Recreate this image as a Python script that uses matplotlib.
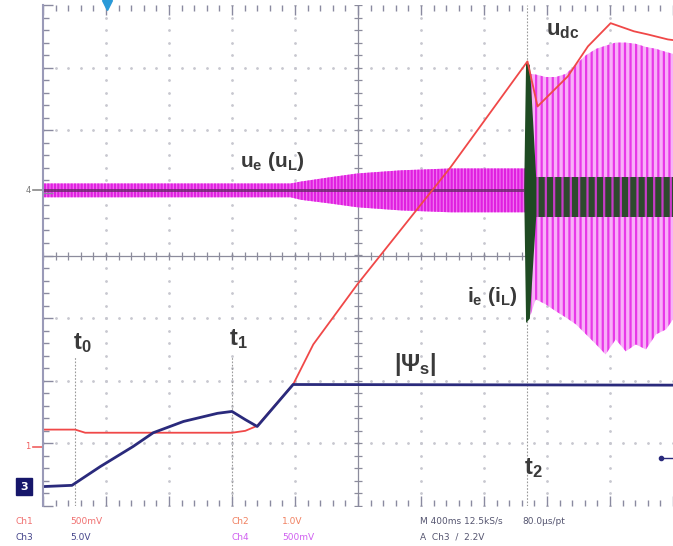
import numpy as np
import matplotlib.pyplot as plt

# scope screen in divisions: x 0..10 (400 ms/div), y -4..4
# Ch1 (red) u_dc
red_x = [0, 0.51, 0.67, 3.0, 3.21, 3.40, 3.97, 4.29, 4.99, 6.47, 7.69, 7.85,
         8.33, 8.65, 9.01, 9.38, 9.60, 9.92, 10]
red_y = [-2.78, -2.78, -2.83, -2.83, -2.80, -2.72, -2.06, -1.42, -0.46, 1.41, 3.10, 2.38,
         2.86, 3.34, 3.71, 3.58, 3.53, 3.45, 3.44]

# Ch3 (blue) |Psi_s|
blue_x = [0, 0.46, 0.91, 1.43, 1.75, 2.23, 2.77, 3.0, 3.21, 3.40, 3.97, 10]
blue_y = [-3.69, -3.67, -3.37, -3.05, -2.83, -2.65, -2.52, -2.49, -2.62, -2.73, -2.06, -2.07]

# Ch4 (magenta) u_e envelope, before and after t2
mag_x_pre = [0, 3.93, 4.09, 4.56, 4.99, 5.68, 6.47, 7.27, 7.66]
mag_hi_pre = [1.15, 1.15, 1.18, 1.25, 1.31, 1.36, 1.39, 1.39, 1.39]
mag_lo_pre = [0.93, 0.93, 0.89, 0.83, 0.77, 0.72, 0.69, 0.69, 0.69]

mag_x_post = [7.74, 7.82, 7.98, 8.14, 8.30, 8.46, 8.62, 8.78, 8.93, 9.09, 9.25, 9.41,
              9.57, 9.73, 9.89, 10]
mag_hi_post = [2.90, 2.89, 2.85, 2.85, 2.90, 3.05, 3.20, 3.30, 3.35, 3.40, 3.40, 3.38,
               3.33, 3.30, 3.25, 3.22]
mag_lo_post = [-0.95, -0.70, -0.78, -0.89, -0.99, -1.10, -1.26, -1.42, -1.58, -1.34, -1.53, -1.42,
               -1.50, -1.26, -1.18, -1.02]

# Ch2 (dark green) i_e: thin trace before t2, spike at t2, band after
grn_x_pre = [0, 7.64]
grn_hi_pre = [1.06, 1.06]
grn_lo_pre = [1.02, 1.02]
spike_x = [7.63, 7.66, 7.72, 7.78, 7.82]
spike_hi = [1.07, 3.10, 3.05, 2.0, 1.25]
spike_lo = [1.01, -1.07, -1.0, 0.0, 0.62]
grn_x_post = [7.80, 10]
grn_hi_post = [1.25, 1.25]
grn_lo_post = [0.62, 0.62]

t_marks = [0.51, 3.0, 7.69]

plt.rcParams['mathtext.fontset'] = 'custom'
plt.rcParams['mathtext.rm'] = 'Liberation Sans'
plt.rcParams['mathtext.bf'] = 'Liberation Sans:bold'
plt.rcParams['mathtext.it'] = 'Liberation Sans:italic'
plt.rcParams['hatch.linewidth'] = 1.6

fig = plt.figure(figsize=(6.73, 5.46), dpi=100)
ax = fig.add_axes([43/673, 1-506/546, 630/673, 501/546])
ax.set_xlim(0, 10)
ax.set_ylim(-4, 4)

# graticule
gx = np.arange(0, 10.01, 0.2)
gy = np.arange(-4, 4.01, 0.2)
for k in range(1, 10):
    if k != 5:
        ax.plot([k]*len(gy), gy, ls='none', marker='.', ms=2, color='#c8c8d0', zorder=0.5)
for k in range(-3, 4):
    if k != 0:
        ax.plot(gx, [k]*len(gx), ls='none', marker='.', ms=2, color='#c8c8d0', zorder=0.5)
ax.axhline(0, color='#8c8c9c', lw=0.9, zorder=0.6)
ax.axvline(5, color='#8c8c9c', lw=0.9, zorder=0.6)
ax.plot(gx, [0]*len(gx), ls='none', marker='|', ms=6, mew=0.9, color='#8c8c9c', zorder=0.6)
ax.plot([5]*len(gy), gy, ls='none', marker='_', ms=6, mew=0.9, color='#8c8c9c', zorder=0.6)

ax.xaxis.set_major_locator(plt.MultipleLocator(1))
ax.xaxis.set_minor_locator(plt.MultipleLocator(0.2))
ax.yaxis.set_major_locator(plt.MultipleLocator(1))
ax.yaxis.set_minor_locator(plt.MultipleLocator(0.2))
ax.tick_params(which='both', direction='in', top=True, right=False, labelbottom=False,
               labelleft=False, color='#8a8aa0')
ax.tick_params(which='major', length=7, width=1)
ax.tick_params(which='minor', length=4, width=1)
for s in ['top', 'bottom', 'right']:
    ax.spines[s].set_visible(False)
ax.spines['left'].set_color('#9a9ab8')
ax.spines['left'].set_linewidth(1.5)

# time markers
for i, tx in enumerate(t_marks):
    top = 4 if i == 2 else -1.6
    ax.plot([tx, tx], [-4, top], color='#9a9a9a', lw=0.8, ls=(0, (1.5, 1.5)), zorder=0.7)

# traces
ax.fill_between(mag_x_pre, mag_lo_pre, mag_hi_pre, facecolor='#f27af2',
                edgecolor='#e020e0', hatch='|||||', lw=0)
ax.fill_between(mag_x_post, mag_lo_post, mag_hi_post, facecolor='#f8b0f8',
                edgecolor='#e838e8', hatch='|||', lw=0)
ax.fill_between(grn_x_pre, grn_lo_pre, grn_hi_pre, color='#6a2a6a', lw=0, alpha=0.8)
ax.fill_between(grn_x_post, grn_lo_post, grn_hi_post, facecolor='#2e4a2e',
                edgecolor='#c83cc8', hatch='||', lw=0)
ax.fill_between(spike_x, spike_lo, spike_hi, color='#1e4a22', lw=0)
ax.plot(red_x, red_y, color='#f04848', lw=1.3)
ax.plot(blue_x, blue_y, color='#2a2a7c', lw=2)

# labels
tc = '#3a3a3a'
ax.text(0.62, -1.39, r'$\mathbf{t_0}$', fontsize=17, color=tc, ha='center', va='center')
ax.text(3.10, -1.34, r'$\mathbf{t_1}$', fontsize=17, color=tc, ha='center', va='center')
ax.text(7.79, -3.39, r'$\mathbf{t_2}$', fontsize=17, color=tc, ha='center', va='center')
ax.text(8.25, 3.58, r'$\mathbf{u_{dc}}$', fontsize=16, color=tc, ha='center', va='center')
ax.text(3.64, 1.50, r'$\mathbf{u_e\ (u_L)}$', fontsize=15, color=tc, ha='center', va='center')
ax.text(7.14, -0.65, r'$\mathbf{i_e\ (i_L)}$', fontsize=15, color=tc, ha='center', va='center')
ax.text(5.91, -1.74, r'$\mathbf{|\Psi_s|}$', fontsize=17, color=tc, ha='center', va='center')

# channel markers
ax.plot([-0.16, 0], [1.04, 1.04], color='#888888', lw=1.2, clip_on=False)
ax.text(-0.24, 1.04, '4', fontsize=6, color='#777777', ha='center', va='center')
ax.plot([-0.16, 0], [-3.05, -3.05], color='#f06060', lw=1.2, clip_on=False)
ax.text(-0.24, -3.05, '1', fontsize=6, color='#f06060', ha='center', va='center')
ax.text(-0.3, -3.69, '3', fontsize=8, color='white', ha='center', va='center',
        fontweight='bold', bbox=dict(boxstyle='square,pad=0.35', fc='#16166a', ec='#16166a'))
ax.plot([1.02], [4.0], marker='v', ms=7, color='#2a9ad8', clip_on=False)
ax.plot([9.81, 10], [-3.24, -3.24], color='#2a2a7c', lw=1, clip_on=False)
ax.plot([9.81], [-3.24], marker='o', ms=3, color='#2a2a7c', clip_on=False)

# status line
fs = 6.5
y1, y2 = 1-521/546, 1-537/546
fig.text(15/673, y1, 'Ch1', fontsize=fs, color='#f07070', va='center')
fig.text(70/673, y1, '500mV', fontsize=fs, color='#f07070', va='center')
fig.text(15/673, y2, 'Ch3', fontsize=fs, color='#44448a', va='center')
fig.text(70/673, y2, '5.0V', fontsize=fs, color='#44448a', va='center')
fig.text(232/673, y1, 'Ch2', fontsize=fs, color='#f08060', va='center')
fig.text(282/673, y1, '1.0V', fontsize=fs, color='#f08060', va='center')
fig.text(232/673, y2, 'Ch4', fontsize=fs, color='#d060f0', va='center')
fig.text(282/673, y2, '500mV', fontsize=fs, color='#d060f0', va='center')
fig.text(420/673, y1, 'M 400ms 12.5kS/s', fontsize=fs, color='#555570', va='center')
fig.text(522/673, y1, '80.0\u00b5s/pt', fontsize=fs, color='#555570', va='center')
fig.text(420/673, y2, 'A  Ch3  /  2.2V', fontsize=fs, color='#555570', va='center')

fig.savefig('out.png', dpi=100)
